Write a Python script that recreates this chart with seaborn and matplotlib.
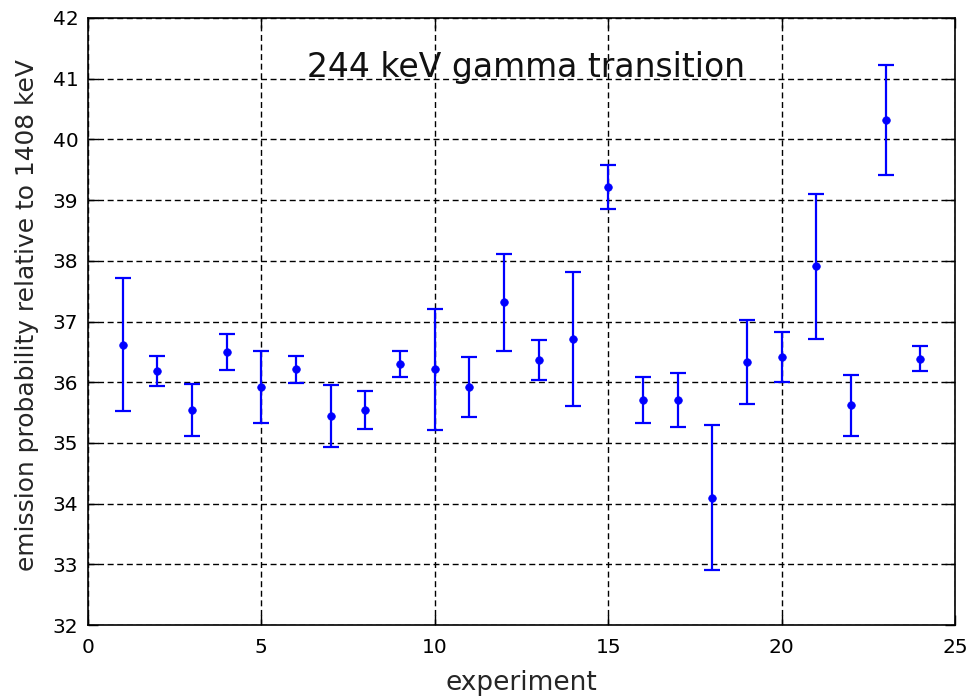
import matplotlib
matplotlib.use("Agg")
import matplotlib.pyplot as plt
import seaborn as sns
import pandas as pd

experiment = list(range(1, 25))
probability = [36.62, 36.18, 35.54, 36.50, 35.92, 36.21, 35.45, 35.54,
               36.30, 36.21, 35.92, 37.32, 36.36, 36.71, 39.22, 35.71,
               35.71, 34.10, 36.33, 36.42, 37.91, 35.62, 40.32, 36.39]
uncertainty = [1.10, 0.25, 0.43, 0.30, 0.60, 0.22, 0.51, 0.31,
               0.22, 1.00, 0.50, 0.80, 0.33, 1.10, 0.36, 0.38,
               0.44, 1.20, 0.69, 0.41, 1.19, 0.50, 0.90, 0.20]

x_ticks = [0, 5, 10, 15, 20, 25]
y_ticks = [32, 33, 34, 35, 36, 37, 38, 39, 40, 41, 42]

df = pd.DataFrame({"experiment": experiment,
                   "probability": probability,
                   "uncertainty": uncertainty})

sns.set_style("white")
plt.rcParams["font.family"] = ["DejaVu Sans"]

fig = plt.figure(figsize=(9.71, 7.0), dpi=100)
ax = fig.add_axes([0.0906, 0.1071, 0.8929, 0.8672])

blue = "#0000ff"
ax.errorbar(df["experiment"], df["probability"], yerr=df["uncertainty"],
            fmt="none", ecolor=blue, elinewidth=1.6, capsize=5.8, capthick=1.6,
            zorder=3)
sns.scatterplot(data=df, x="experiment", y="probability", ax=ax,
                color=blue, marker="o", s=30, edgecolor=blue, linewidth=0.5,
                zorder=4)

ax.set_xlim(0, 25)
ax.set_ylim(32, 42)
ax.set_xticks(x_ticks)
ax.set_yticks(y_ticks)
ax.set_xticklabels([str(t) for t in x_ticks], fontsize=14.5)
ax.set_yticklabels([str(t) for t in y_ticks], fontsize=14.5)

ax.grid(True, color="black", linestyle=(0, (4.3, 2.6)), linewidth=1.0)
ax.set_axisbelow(True)
ax.tick_params(direction="in", length=7, width=1.0, top=True, right=True,
               bottom=True, left=True, colors="black")
ax.tick_params(axis="x", pad=9)
ax.tick_params(axis="y", pad=7)
for spine in ax.spines.values():
    spine.set_color("black")
    spine.set_linewidth(1.2)

ax.set_xlabel("experiment", fontsize=19, labelpad=10)
ax.set_ylabel("emission probability relative to 1408 keV", fontsize=17.9,
              labelpad=10)
ax.yaxis.label.set_y(0.51)

ax.text(12.64, 41.03, "244 keV gamma transition", fontsize=23.8,
        ha="center", va="baseline", color="#111111")

fig.savefig("out.png", dpi=100, facecolor="white")
